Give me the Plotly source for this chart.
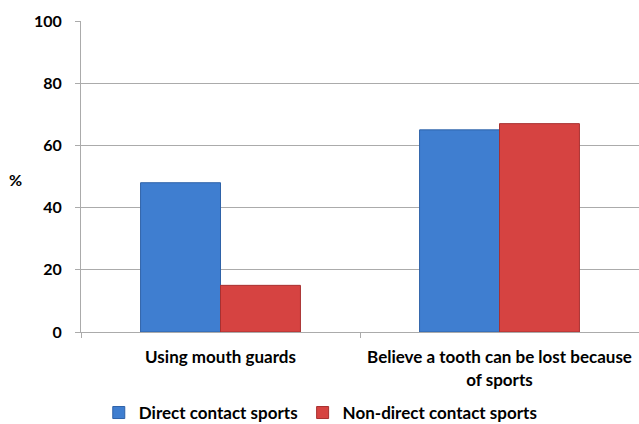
import plotly.graph_objects as go

categories = ["Using mouth guards", "Believe a tooth can be lost because<br>of sports"]
direct = [48, 65]
non_direct = [15, 67]
y_ticks = [0, 20, 40, 60, 80, 100]

fig = go.Figure()
fig.add_trace(go.Bar(name="Direct contact sports", x=categories, y=direct,
                     marker=dict(color="#3F7ED0", line=dict(color="#2E62A8", width=1))))
fig.add_trace(go.Bar(name="Non-direct contact sports", x=categories, y=non_direct,
                     marker=dict(color="#D64341", line=dict(color="#A83030", width=1))))

fig.update_layout(
    width=639, height=424,
    margin=dict(l=81, r=0, t=21, b=92, autoexpand=False),
    plot_bgcolor="white", paper_bgcolor="white",
    barmode="group", bargap=0.427, bargroupgap=0,
    font=dict(family="Lato, Open Sans, sans-serif", size=16, color="#000000", weight="bold"),
    legend=dict(orientation="h", xref="container", yref="container", x=0.502, xanchor="center",
                y=0.026, yanchor="middle",
                font=dict(size=17, weight="bold"), itemwidth=30, traceorder="normal"),
    showlegend=True,
)
fig.update_yaxes(range=[0, 100], tickvals=y_ticks, showgrid=True, gridcolor="#ABABAB",
                 gridwidth=1, showline=True, linecolor="#ABABAB", ticks="outside",
                 tickcolor="#ABABAB", ticklen=5, zeroline=False, ticklabelstandoff=10,
                 automargin=False, tickfont=dict(size=16, weight="bold"))
fig.update_xaxes(showline=True, linecolor="#ABABAB", ticks="outside", tickcolor="#ABABAB",
                 ticklen=5, tickson="boundaries", ticklabelstandoff=10, automargin=False,
                 tickfont=dict(size=17, weight="bold"))
fig.add_annotation(text="%", xref="paper", yref="paper", x=-0.118, y=0.49,
                   showarrow=False, xanchor="center", yanchor="middle",
                   font=dict(size=16, weight="bold"))
fig.write_html("out.html")
